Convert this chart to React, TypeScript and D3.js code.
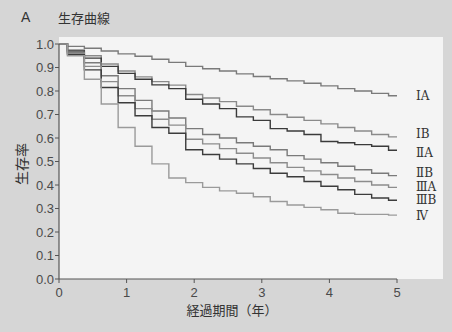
import React from "react";
import { scaleLinear, line, curveStep } from "d3";

// time points (years)
const years = [0, 0.25, 0.5, 0.75, 1, 1.25, 1.5, 1.75, 2, 2.25, 2.5, 2.75, 3, 3.25, 3.5, 3.75, 4, 4.25, 4.5, 4.75, 5];

const stageIA = [1.0, 0.99, 0.982, 0.97, 0.958, 0.948, 0.935, 0.922, 0.905, 0.895, 0.885, 0.873, 0.862, 0.852, 0.843, 0.833, 0.822, 0.81, 0.8, 0.79, 0.78];
const stageIB = [1.0, 0.975, 0.95, 0.915, 0.885, 0.86, 0.84, 0.825, 0.785, 0.77, 0.755, 0.735, 0.72, 0.7, 0.688, 0.675, 0.66, 0.645, 0.63, 0.615, 0.605];
const stageIIA = [1.0, 0.97, 0.94, 0.905, 0.875, 0.85, 0.826, 0.81, 0.765, 0.745, 0.725, 0.69, 0.675, 0.64, 0.63, 0.615, 0.585, 0.58, 0.572, 0.565, 0.548];
const stageIIB = [1.0, 0.965, 0.92, 0.865, 0.81, 0.76, 0.715, 0.685, 0.64, 0.615, 0.6, 0.58, 0.565, 0.55, 0.525, 0.51, 0.495, 0.48, 0.465, 0.45, 0.44];
const stageIIIA = [1.0, 0.96, 0.905, 0.84, 0.78, 0.725, 0.68, 0.655, 0.595, 0.575, 0.555, 0.535, 0.515, 0.495, 0.475, 0.46, 0.445, 0.43, 0.415, 0.4, 0.39];
const stageIIIB = [1.0, 0.955, 0.89, 0.815, 0.75, 0.695, 0.645, 0.62, 0.55, 0.53, 0.51, 0.49, 0.47, 0.45, 0.435, 0.415, 0.395, 0.38, 0.36, 0.345, 0.335];
const stageIV = [1.0, 0.95, 0.85, 0.745, 0.645, 0.565, 0.49, 0.43, 0.41, 0.39, 0.375, 0.365, 0.35, 0.33, 0.315, 0.305, 0.295, 0.28, 0.275, 0.275, 0.272];

const stageLabels = ["ⅠA", "ⅠB", "ⅡA", "ⅡB", "ⅢA", "ⅢB", "Ⅳ"];
const stageColors = ["#7a7a7a", "#8a8a8a", "#3a3a3a", "#7a7a7a", "#8c8c8c", "#3c3c3c", "#9a9a9a"];
// label nudge so the stacked end labels don't collide
const labelOffsets = [4, 1, 7, 1, 3.5, 4, 5];

const xTicks = [0, 1, 2, 3, 4, 5];
const yTicks = [0, 0.1, 0.2, 0.3, 0.4, 0.5, 0.6, 0.7, 0.8, 0.9, 1.0];

const W = 452;
const H = 332;

export default function App() {
  const x = scaleLinear().domain([0, 5]).range([59, 397]);
  const y = scaleLinear().domain([0, 1]).range([279, 44]);

  const series = [stageIA, stageIB, stageIIA, stageIIB, stageIIIA, stageIIIB, stageIV];

  const path = line<number>()
    .x((_, i) => x(years[i]))
    .y((d) => y(d))
    .curve(curveStep);

  const sans = "'Liberation Sans', Arial, sans-serif";
  const jp = "'Noto Sans CJK JP', sans-serif";

  return (
    <svg width={W} height={H} style={{ position: "fixed", left: 0, top: 0 }}>
      <rect x={0} y={0} width={W} height={H} fill="#d6d6d6" />
      {/* plot panel */}
      <rect x={59} y={37} width={384} height={242} fill="#f4f4f4" />

      {/* title */}
      <text x={21} y={22} fontFamily={sans} fontSize={14} fill="#333">A</text>
      <text x={58} y={23} fontFamily={jp} fontSize={13} fill="#333">生存曲線</text>

      {/* curves */}
      {series.map((s, i) => (
        <path key={i} d={path(s) || ""} fill="none" stroke={stageColors[i]} strokeWidth={1.4} />
      ))}

      {/* stage labels */}
      {series.map((s, i) => (
        <text
          key={"l" + i}
          x={416}
          y={y(s[s.length - 1]) + labelOffsets[i]}
          fontFamily="'DejaVu Serif', 'Liberation Serif', serif"
          fontSize={12}
          fill="#333"
        >
          {stageLabels[i]}
        </text>
      ))}

      {/* y axis */}
      <line x1={59} x2={59} y1={y(1)} y2={y(0)} stroke="#555" strokeWidth={1.2} />
      {yTicks.map((t) => (
        <g key={"y" + t}>
          <line x1={55} x2={59} y1={y(t)} y2={y(t)} stroke="#555" />
          <text x={54} y={y(t) + 4.5} textAnchor="end" fontFamily={sans} fontSize={13} fill="#4a4a4a">
            {t.toFixed(1)}
          </text>
        </g>
      ))}

      {/* x axis */}
      <line x1={x(0)} x2={x(5)} y1={279} y2={279} stroke="#555" strokeWidth={1.2} />
      {xTicks.map((t) => (
        <g key={"x" + t}>
          <line x1={x(t)} x2={x(t)} y1={279} y2={283} stroke="#555" />
          <text x={x(t)} y={297} textAnchor="middle" fontFamily={sans} fontSize={13} fill="#4a4a4a">
            {t}
          </text>
        </g>
      ))}

      <text x={232} y={315} textAnchor="middle" fontFamily={jp} fontSize={13} fill="#333">
        経過期間（年）
      </text>
      <text
        transform="translate(27,164) rotate(-90)"
        textAnchor="middle"
        fontFamily={jp}
        fontSize={14}
        fill="#333"
      >
        生存率
      </text>
    </svg>
  );
}
